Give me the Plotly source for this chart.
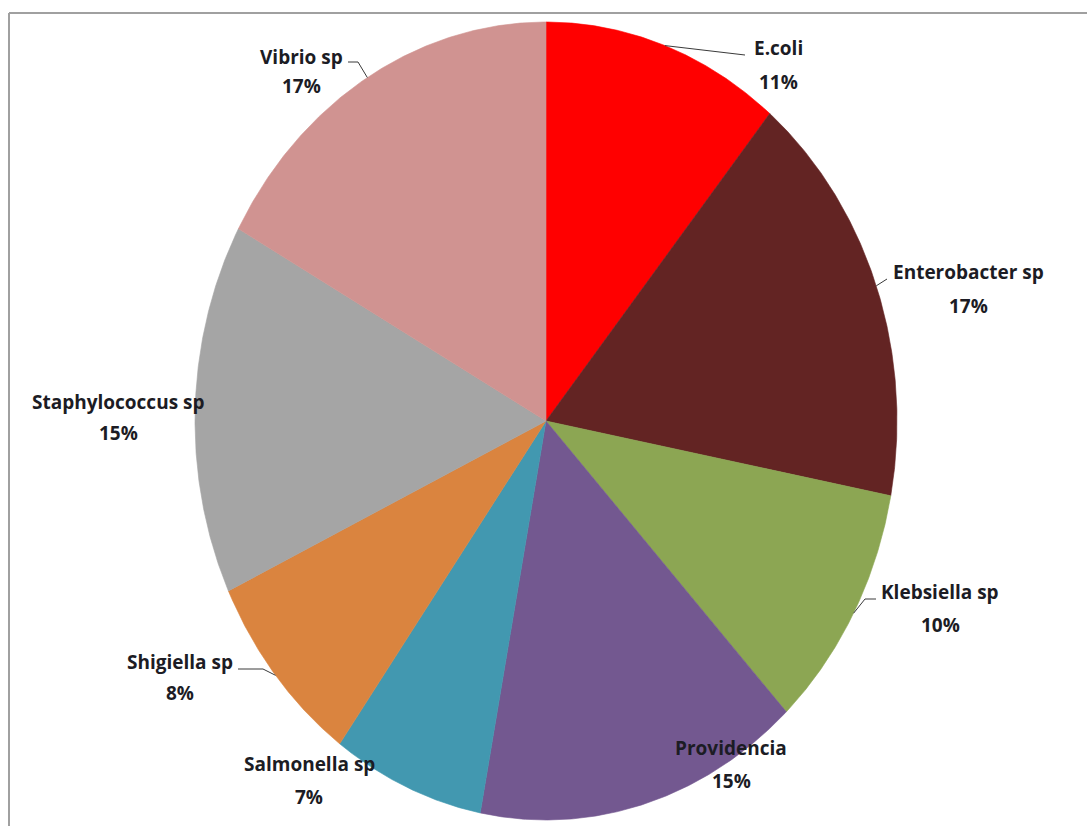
import numpy as np
import plotly.graph_objects as go

# Isolates and their share of the total (%)
organisms = ["E.coli", "Enterobacter sp", "Klebsiella sp", "Providencia",
             "Salmonella sp", "Shigiella sp", "Staphylococcus sp", "Vibrio sp"]
shares = [11, 17, 10, 15, 7, 8, 15, 17]

colors = ["#FF0000", "#632423", "#8CA653", "#735890",
          "#4298B0", "#DA843F", "#A5A5A5", "#D09391"]

# Page geometry (pixel units on both axes)
W, H = 1087, 826
CX, CY = 546, 421          # pie centre
RX, RY = 351, 399          # horizontal / vertical radius

# Label placement: centre x, y of name line, y of percentage line
label_pos = {
    "E.coli": (778, 48, 82),
    "Enterobacter sp": (968, 272, 306),
    "Klebsiella sp": (940, 592, 625),
    "Providencia": (731, 748, 781),
    "Salmonella sp": (309, 764, 797),
    "Shigiella sp": (180, 662, 693),
    "Staphylococcus sp": (118, 402, 433),
    "Vibrio sp": (301, 57, 86),
}
# Leader line points after the slice edge point
leaders = {
    "E.coli": [(700, 50), (745, 55)],
    "Enterobacter sp": [(887, 279)],
    "Klebsiella sp": [(865, 599), (876, 599)],
    "Shigiella sp": [(263, 669), (238, 669)],
    "Vibrio sp": [(358, 62), (348, 62)],
}


def ellipse_pt(theta_deg):
    t = np.radians(theta_deg)
    return CX + RX * np.sin(t), CY - RY * np.cos(t)


fig = go.Figure()

total = float(sum(shares))
start = 0.0
mid_angles = {}
for name, val, col in zip(organisms, shares, colors):
    a0 = start / total * 360.0
    a1 = (start + val) / total * 360.0
    th = np.linspace(a0, a1, 160)
    ex, ey = ellipse_pt(th)
    xs = np.concatenate([[CX], ex, [CX]])
    ys = np.concatenate([[CY], ey, [CY]])
    fig.add_trace(go.Scatter(
        x=xs, y=ys, mode="lines", fill="toself", fillcolor=col,
        line=dict(color=col, width=0.6), name=name,
        hoverinfo="text", text=f"{name}: {val}%", showlegend=False,
    ))
    mid_angles[name] = (a0 + a1) / 2.0
    start += val

# Leader lines from slice edge to label
for name, pts in leaders.items():
    sx, sy = ellipse_pt(mid_angles[name])
    xs = [sx] + [p[0] for p in pts]
    ys = [sy] + [p[1] for p in pts]
    fig.add_trace(go.Scatter(
        x=xs, y=ys, mode="lines", line=dict(color="#3a3a3a", width=1),
        hoverinfo="skip", showlegend=False,
    ))

font = dict(family="Open Sans", size=19, color="#1c1c24", weight="bold")
annotations = []
for name, val in zip(organisms, shares):
    x, y1, y2 = label_pos[name]
    annotations.append(dict(x=x, y=y1, text=name, showarrow=False,
                            xref="x", yref="y", font=font))
    annotations.append(dict(x=x, y=y2, text=f"{val}%", showarrow=False,
                            xref="x", yref="y", font=font))

# Chart frame (top and left edges)
shapes = [
    dict(type="line", xref="x", yref="y", x0=9, x1=W, y0=13, y1=13,
         line=dict(color="#a0a0a0", width=2)),
    dict(type="line", xref="x", yref="y", x0=9, x1=9, y0=13, y1=H,
         line=dict(color="#a0a0a0", width=2)),
]

fig.update_layout(
    width=W, height=H,
    margin=dict(l=0, r=0, t=0, b=0),
    paper_bgcolor="white", plot_bgcolor="white",
    xaxis=dict(range=[0, W], visible=False, fixedrange=True),
    yaxis=dict(range=[H, 0], visible=False, fixedrange=True),
    annotations=annotations, shapes=shapes,
    showlegend=False,
)

fig.write_html("out.html")
